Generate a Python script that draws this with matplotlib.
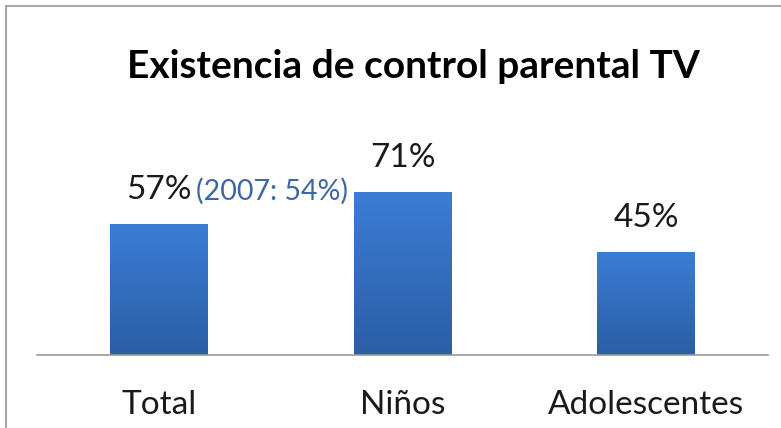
import numpy as np
import matplotlib.pyplot as plt
import matplotlib.patches as patches
from matplotlib.colors import LinearSegmentedColormap

categories = ['Total', 'Niños', 'Adolescentes']
values = [57, 71, 45]
labels = ['57%', '71%', '45%']
note = '(2007: 54%)'

plt.rcParams['font.family'] = ['Lato', 'DejaVu Sans']

fig = plt.figure(figsize=(7.81, 4.28), dpi=100)
ax = fig.add_axes([0.0474, 0.1706, 0.936, 0.6])

# gray frame of the original chart box (cut off on right and bottom)
fig.patches.append(patches.Rectangle((6 / 781, -0.1), 1.2, 1 - 6 / 428 + 0.1,
                                     transform=fig.transFigure, fill=False,
                                     edgecolor='#a6a6a6', linewidth=1.5))

x = np.arange(len(categories))
width = 0.4
bars = ax.bar(x, values, width=width, color='none', edgecolor='none')

# vertical gradient fill, lighter on top
cmap = LinearSegmentedColormap.from_list('blu', ['#2b5ea5', '#3b7dd6'])
grad = np.linspace(0, 1, 256).reshape(-1, 1)
for b in bars:
    x0, y0 = b.get_x(), b.get_y()
    w, h = b.get_width(), b.get_height()
    im = ax.imshow(grad, cmap=cmap, origin='lower', aspect='auto',
                   extent=(x0, x0 + w, y0, y0 + h), zorder=2)
    im.set_clip_path(b)

ax.set_xlim(-0.5, 2.5)
ax.set_ylim(0, 111.7)

for xi, v, lab in zip(x, values, labels):
    ax.annotate(lab, (xi, v), xytext=(0, 13.5), textcoords='offset points',
                ha='center', va='bottom', fontsize=24, color='#1a1a1a')

ax.annotate(note, (0, values[0]), xytext=(27, 13.5), textcoords='offset points',
            ha='left', va='bottom', fontsize=20.5, color='#3c67a6')

for s in ['top', 'right', 'left']:
    ax.spines[s].set_visible(False)
ax.spines['bottom'].set_color('#9a9a9a')
ax.spines['bottom'].set_linewidth(1.2)
ax.set_yticks([])
ax.set_xticks(x)
ax.set_xticklabels(categories, fontsize=24, color='#1a1a1a')
ax.tick_params(axis='x', length=0, pad=25)

fig.text(413 / 781, 1 - 66 / 428, 'Existencia de control parental TV',
         ha='center', va='center', fontsize=28, fontweight='bold', color='black')

fig.savefig('out.png', dpi=100)
